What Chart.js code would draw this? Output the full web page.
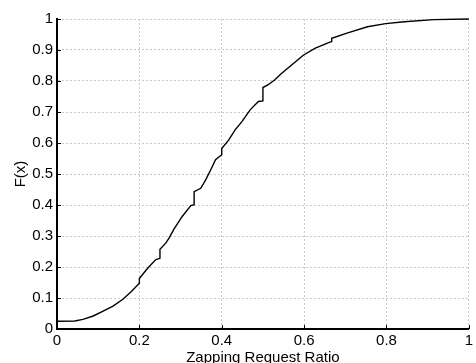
<!DOCTYPE html>
<html>
<head>
<meta charset="utf-8">
<script src="https://cdn.jsdelivr.net/npm/chart.js@4/dist/chart.umd.min.js"></script>
<style>
    html, body { margin: 0; padding: 0; background: #fff; }
</style>
</head>
<body>
<canvas id="cdf" width="476" height="363"></canvas>
<script>
// empirical CDF of the zapping request ratio, read off the picture
// (repeated x = a vertical jump in the staircase)
const ratio = [
    0, 0.043, 0.063, 0.088, 0.112, 0.136, 0.16, 0.18, 0.2, 0.2,
    0.22, 0.24, 0.25, 0.25, 0.264, 0.272, 0.284, 0.304, 0.325, 0.333,
    0.333, 0.349, 0.361, 0.373, 0.385, 0.4, 0.4, 0.417, 0.433, 0.449,
    0.469, 0.489, 0.5, 0.5, 0.513, 0.529, 0.545, 0.569, 0.598, 0.626,
    0.664, 0.667, 0.667, 0.706, 0.754, 0.798, 0.843, 0.915, 1
];
const cdf = [
    0.025, 0.026, 0.031, 0.042, 0.058, 0.074, 0.096, 0.12, 0.148, 0.163,
    0.196, 0.224, 0.228, 0.257, 0.277, 0.293, 0.322, 0.363, 0.398, 0.401,
    0.443, 0.454, 0.481, 0.513, 0.546, 0.562, 0.582, 0.61, 0.643, 0.669,
    0.707, 0.734, 0.736, 0.779, 0.788, 0.804, 0.824, 0.851, 0.883, 0.905,
    0.926, 0.927, 0.938, 0.955, 0.975, 0.985, 0.991, 0.998, 1
];

const x_ticks = [0, 0.2, 0.4, 0.6, 0.8, 1];
const x_tick_labels = ["0", "0.2", "0.4", "0.6", "0.8", "1"];
const y_ticks = [0, 0.1, 0.2, 0.3, 0.4, 0.5, 0.6, 0.7, 0.8, 0.9, 1];
const y_tick_labels = ["0", "0.1", "0.2", "0.3", "0.4", "0.5", "0.6", "0.7", "0.8", "0.9", "1"];

const font = { family: "'Liberation Sans', Arial, Helvetica, sans-serif", size: 15 };

// matlab style: short tick marks pointing into the plot
const inward_ticks = {
    id: "inward_ticks",
    afterDraw(chart) {
        const { ctx, chartArea, scales } = chart;
        ctx.save();
        ctx.strokeStyle = "#000";
        ctx.lineWidth = 1;
        ctx.beginPath();
        scales.x.ticks.forEach((t) => {
            const px = Math.round(scales.x.getPixelForValue(t.value)) + 0.5;
            ctx.moveTo(px, chartArea.bottom);
            ctx.lineTo(px, chartArea.bottom - 4);
        });
        scales.y.ticks.forEach((t) => {
            const py = Math.round(scales.y.getPixelForValue(t.value)) + 0.5;
            ctx.moveTo(chartArea.left, py);
            ctx.lineTo(chartArea.left + 4, py);
        });
        ctx.stroke();
        ctx.restore();
    },
};

const grid = { color: "#c8c8c8", lineWidth: 1, drawTicks: false };
const border = { color: "#000", width: 2, dash: [2, 2] };

const ctx = document.getElementById("cdf").getContext("2d");
const chart = new Chart(ctx, {
    type: "line",
    plugins: [inward_ticks],
    data: {
        datasets: [
            {
                data: ratio.map((r, i) => ({ x: r, y: cdf[i] })),
                borderColor: "#000",
                borderWidth: 1.4,
                pointRadius: 0,
                tension: 0,
                fill: false,
                clip: false,
            },
        ],
    },
    options: {
        responsive: false,
        animation: false,
        layout: { padding: { top: 19, right: 4, left: 0, bottom: 0 } },
        plugins: { legend: { display: false }, tooltip: { enabled: false } },
        scales: {
            x: {
                type: "linear",
                min: 0,
                max: 1,
                afterBuildTicks: (s) => { s.ticks = x_ticks.map((v) => ({ value: v })); },
                afterFit: (s) => { s.height = 34; },
                ticks: {
                    callback: (v, i) => x_tick_labels[i],
                    autoSkip: false,
                    maxRotation: 0,
                    padding: 3,
                    color: "#000",
                    font,
                },
                grid,
                border,
                title: {
                    display: true,
                    text: "Zapping Request Ratio",
                    color: "#000",
                    font,
                    padding: { top: 0, bottom: -3.5 },
                },
            },
            y: {
                type: "linear",
                min: 0,
                max: 1,
                afterBuildTicks: (s) => { s.ticks = y_ticks.map((v) => ({ value: v })); },
                afterFit: (s) => { s.width = 57; },
                ticks: {
                    callback: (v, i) => y_tick_labels[i],
                    autoSkip: false,
                    padding: 4,
                    color: "#000",
                    font,
                },
                grid,
                border,
                title: {
                    display: true,
                    text: "F(x)",
                    color: "#000",
                    font,
                    padding: { top: 12, bottom: 0 },
                },
            },
        },
    },
});
</script>
</body>
</html>
